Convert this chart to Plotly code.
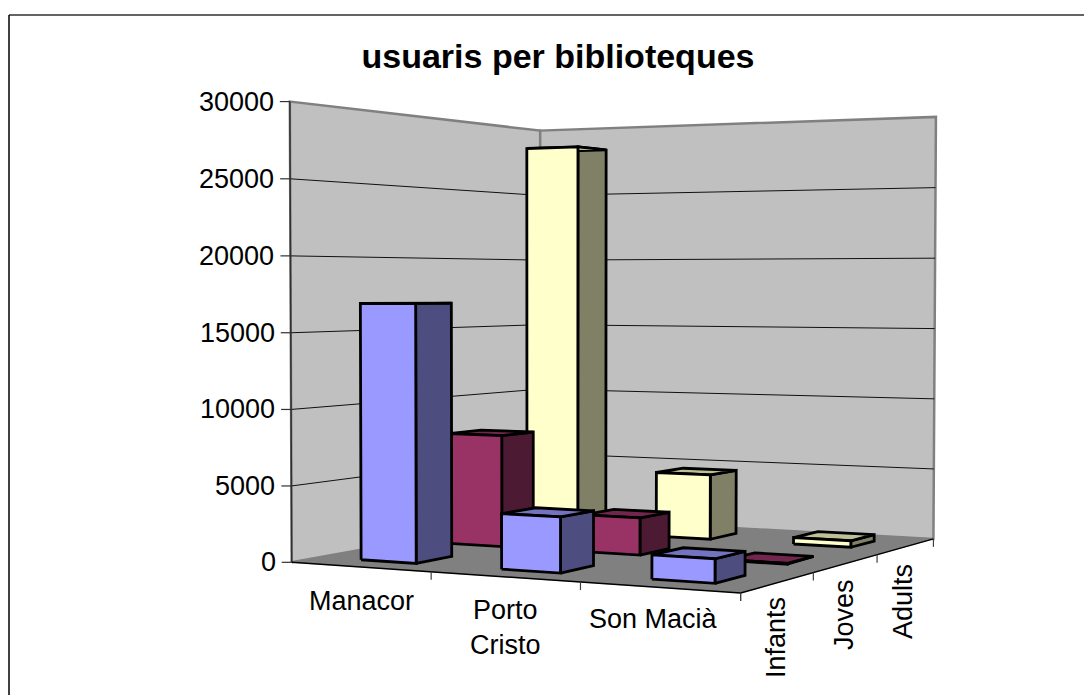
import numpy as np
import plotly.graph_objects as go

categories = ["Manacor", "Porto<br>Cristo", "Son Macià"]
series = ["Infants", "Joves", "Adults"]
infants = [16900, 3550, 1500]
joves = [7700, 2500, 50]
adults = [28150, 4600, 450]
value_ticks = [0, 5000, 10000, 15000, 20000, 25000, 30000]
title = "usuaris per biblioteques"

VMAX = 30000.0
W, H = 1092, 695
PAGE = 8  # default page margin around the figure

# camera calibration: box position (category, series, fraction of height) -> pixel
calib = [
    ((0, 0, 0), (292, 563)), ((3, 0, 0), (740, 593)), ((0, 3, 0), (540, 517)),
    ((3, 3, 0), (934, 539)), ((0, 0, 1), (290, 101)), ((0, 3, 1), (540, 131)),
    ((3, 3, 1), (936, 117)), ((1, 0, 0), (431, 572)), ((2, 0, 0), (581, 582)),
    ((3, 1, 0), (813, 572)), ((3, 2, 0), (877, 555)),
]
A = []
for (X, Y, Z), (px, py) in calib:
    A.append([X, Y, Z, 1, 0, 0, 0, 0, -px * X, -px * Y, -px * Z, -px])
    A.append([0, 0, 0, 0, X, Y, Z, 1, -py * X, -py * Y, -py * Z, -py])
P = np.linalg.svd(np.array(A, float))[2][-1].reshape(3, 4)


def proj(u, v, val):
    q = P @ np.array([u, v, val / VMAX, 1.0])
    return q[0] / q[2], q[1] / q[2]


fig = go.Figure()


def poly(points, fill, line="black", width=2.8):
    xs, ys = zip(*[proj(*p) for p in points])
    fig.add_trace(go.Scatter(x=list(xs) + [xs[0]], y=list(ys) + [ys[0]], mode="lines",
                             fill="toself", fillcolor=fill,
                             line=dict(color=line, width=width), hoverinfo="skip"))


def seg(p0, p1, color="black", width=1):
    fig.add_trace(go.Scatter(x=[p0[0], p1[0]], y=[p0[1], p1[1]], mode="lines",
                             line=dict(color=color, width=width), hoverinfo="skip"))


# walls and floor
poly([(0, 0, 0), (0, 3, 0), (0, 3, VMAX), (0, 0, VMAX)], "#C0C0C0", "#808080", 2.5)
poly([(0, 3, 0), (3, 3, 0), (3, 3, VMAX), (0, 3, VMAX)], "#C0C0C0", "#808080", 2.5)
poly([(0, 0, 0), (3, 0, 0), (3, 3, 0), (0, 3, 0)], "#808080", "#808080", 0.5)

# gridlines
for t in value_ticks[1:-1]:
    seg(proj(0, 0, t), proj(0, 3, t), "#101010", 1)
    seg(proj(0, 3, t), proj(3, 3, t), "#101010", 1)

# axes and ticks
seg(proj(0, 0, 0), proj(0, 0, VMAX), "#303030", 1.5)
seg(proj(0, 0, 0), proj(3, 0, 0), "black", 1.5)
seg(proj(3, 0, 0), proj(3, 3, 0), "black", 1.5)
for t in value_ticks:
    x, y = proj(0, 0, t)
    seg((x - 10, y), (x, y), "#303030", 1.2)
for i in range(1, 4):
    x, y = proj(i, 0, 0)
    seg((x, y), (x, y + 8), "#404040", 1.2)
for i in range(0, 4):
    x, y = proj(3, i, 0)
    seg((x, y), (x, y + 8), "#404040", 1.2)

# bars, painted back to front, left to right
styles = [("#9999FF", "#7373BF", "#4D4D80"),
          ("#993366", "#73264D", "#4D1A33"),
          ("#FFFFCC", "#BFBF99", "#808066")]
rows = [infants, joves, adults]
BW = 0.4
BD = 0.4
for r in [2, 1, 0]:
    front, top, side = styles[r]
    for c in range(3):
        val = rows[r][c]
        u0, u1 = c + 0.5 - BW / 2, c + 0.5 + BW / 2
        v0, v1 = r + 0.5 - BD / 2, r + 0.5 + BD / 2
        poly([(u1, v0, 0), (u1, v1, 0), (u1, v1, val), (u1, v0, val)], side)
        poly([(u0, v0, val), (u1, v0, val), (u1, v1, val), (u0, v1, val)], top)
        poly([(u0, v0, 0), (u1, v0, 0), (u1, v0, val), (u0, v0, val)], front)

# border of the chart area
seg((9, 15), (W, 15), "#303030", 1.5)
seg((9, 15), (9, H), "black", 1.5)

FONT = "Liberation Sans, Arial, sans-serif"
notes = []
for t in value_ticks:
    x, y = proj(0, 0, t)
    notes.append(dict(x=x - 14, y=y, text=str(t), xanchor="right", yanchor="middle",
                      showarrow=False, font=dict(family=FONT, size=27, color="black")))
for name, (x, y) in zip(categories, [(361, 601), (505, 627), (653, 619)]):
    notes.append(dict(x=x, y=y, text=name, xanchor="center", yanchor="middle",
                      showarrow=False, font=dict(family=FONT, size=27, color="black")))
for name, (x, y) in zip(series, [(776, 638), (844, 615), (903, 602)]):
    notes.append(dict(x=x, y=y, text=name, textangle=-90, xanchor="center", yanchor="middle",
                      showarrow=False, font=dict(family=FONT, size=27, color="black")))

fig.update_layout(
    width=W - PAGE, height=H - PAGE, autosize=False, showlegend=False,
    margin=dict(l=0, r=0, t=0, b=0), paper_bgcolor="white", plot_bgcolor="white",
    xaxis=dict(range=[PAGE, W], visible=False, fixedrange=True),
    yaxis=dict(range=[H, PAGE], visible=False, fixedrange=True),
    title=dict(text="<b>" + title + "</b>", x=(558 - PAGE) / (W - PAGE), y=1 - (56 - PAGE) / (H - PAGE),
               xanchor="center", yanchor="middle",
               font=dict(family=FONT, size=34, color="black")),
    annotations=notes,
)
fig.write_html("out.html", config=dict(displayModeBar=False))
